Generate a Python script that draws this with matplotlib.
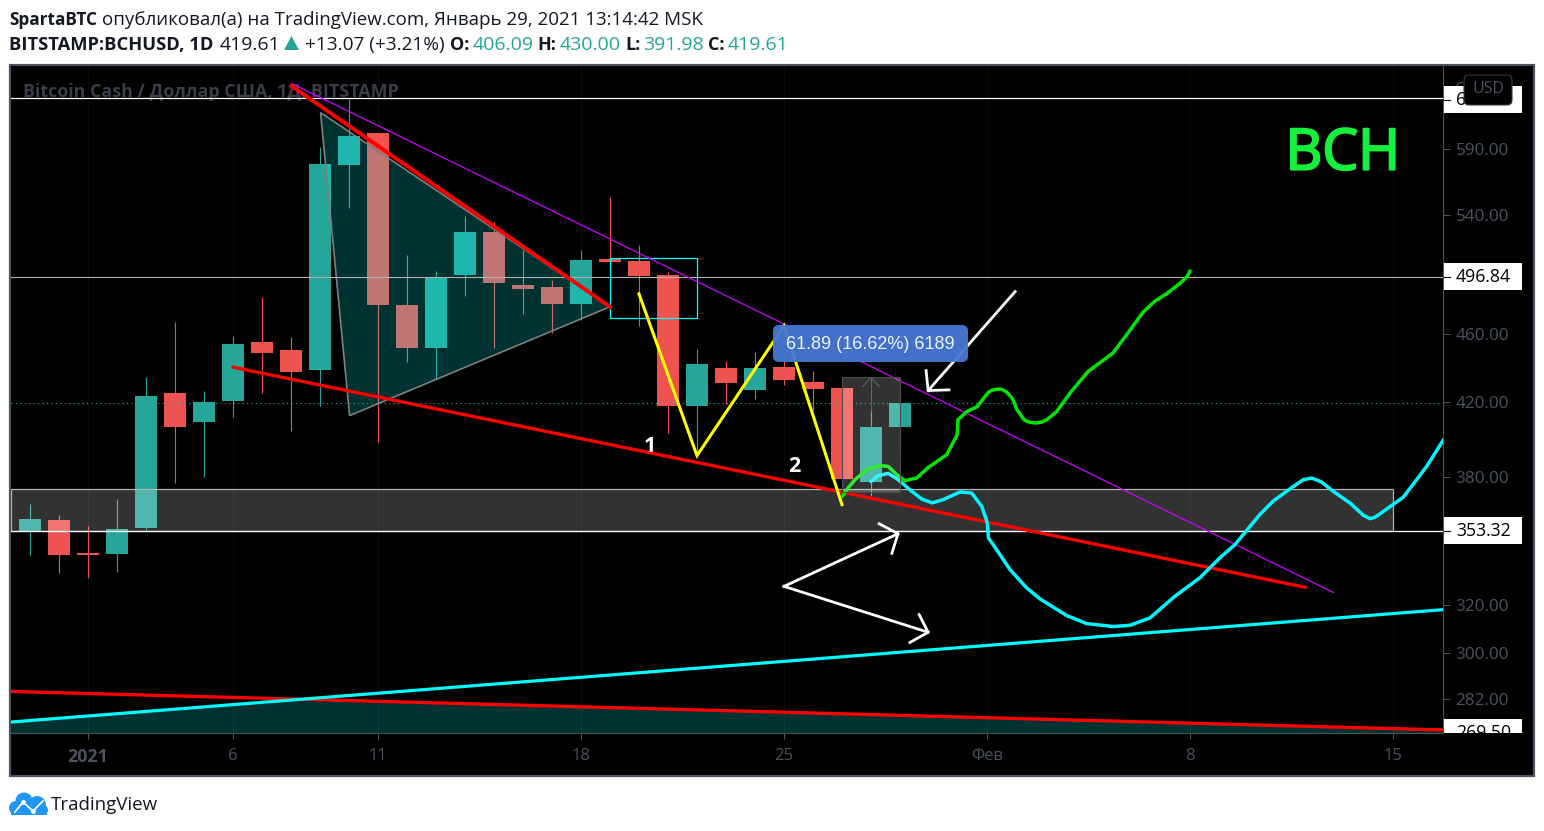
# BCHUSD daily chart with hand drawn trend lines

import matplotlib
matplotlib.use('Agg')
import matplotlib.pyplot as plt
import matplotlib.patheffects as pe
from matplotlib.patches import Rectangle, Polygon, FancyBboxPatch, Ellipse
from matplotlib.lines import Line2D
from matplotlib.ticker import NullLocator
from matplotlib.transforms import Bbox, IdentityTransform

W, H = 1544, 831

# candles, day 0 is Jan 1 2021
days = list(range(-2, 29))
opens = [352.6, 358.7, 342.8, 342.4, 354.5, 425.3, 408.7, 420.4, 455.4, 450.6, 438.8,
         577.7, 602.7, 478.6, 451.4, 498.4, 527.8, 491.6, 490.3, 479.4, 509.0, 507.6,
         498.2, 418.1, 439.8, 427.2, 440.4, 431.6, 428.1, 377.2, 406.09]
highs = [366.5, 361.1, 355.8, 369.0, 434.6, 467.8, 426.4, 459.1, 483.9, 458.5, 591.6,
         631.2, 603.0, 511.8, 500.9, 539.3, 535.0, 515.2, 494.9, 515.2, 553.2, 518.7,
         500.2, 451.2, 444.0, 449.4, 449.4, 438.0, 428.3, 415.2, 430.00]
lows = [342.0, 333.8, 331.6, 334.3, 354.0, 376.6, 379.7, 411.5, 425.3, 404.3, 418.1,
        545.3, 398.4, 443.0, 433.4, 484.4, 451.4, 473.0, 461.1, 468.7, 507.0, 465.5,
        403.2, 390.5, 419.2, 422.0, 430.0, 415.7, 369.9, 370.3, 391.98]
closes = [359.2, 342.0, 342.0, 354.4, 423.6, 406.0, 420.2, 454.2, 448.4, 437.6, 578.3,
          600.3, 478.8, 451.4, 496.9, 527.8, 493.1, 489.0, 479.4, 508.3, 507.2, 497.7,
          418.1, 442.2, 431.1, 439.8, 432.4, 427.6, 378.7, 406.3, 419.61]

# horizontal levels
level_top = 631.4
level_mid = 496.84
level_low = 353.32
level_zone = 373.7
last_price = 419.61

# drawings, (day, price)
red_down_x, red_down_y = [7.02, 18.0], [642.0, 477.4]
red_long_x, red_long_y = [5.0, 41.97], [440.2, 327.6]
red_base_x, red_base_y = [-2.655, 46.72], [284.85, 270.5]
cyan_base_x, cyan_base_y = [-2.655, 46.72], [273.4, 317.9]
magenta_x, magenta_y = [7.02, 42.95], [644.2, 325.3]
yellow_x, yellow_y = [19.0, 21.0, 24.0, 26.0], [485.7, 390.9, 465.3, 366.0]
tri_x, tri_y = [8.02, 9.02, 18.0], [619.5, 412.5, 477.4]
base_fill_x = [-2.655, 7.39, 46.72, 46.72, -2.655]
base_fill_y = [273.4, 281.4, 270.5, 269.0, 269.0]

green_x = [26.02, 26.16, 26.45, 26.85, 27.31, 27.59, 27.89, 28.17, 28.58, 28.97, 29.61, 29.97,
           30.0, 30.3, 30.66, 31.03, 31.17, 31.33, 31.48, 31.66, 31.79, 31.9, 32.02, 32.28, 32.41,
           32.66, 32.86, 33.06, 33.4, 33.86, 34.48, 35.34, 35.82, 36.38, 36.79, 37.2, 37.66, 37.9, 38.0]
green_y = [370.1, 373.4, 378.5, 383.6, 385.7, 385.3, 381.1, 378.0, 379.4, 384.7, 391.4, 402.0,
           410.2, 414.7, 417.5, 425.3, 426.8, 427.4, 427.4, 426.0, 423.7, 421.3, 416.1, 410.2, 409.1,
           408.4, 408.8, 410.2, 414.7, 425.1, 437.6, 448.6, 459.9, 473.9, 481.0, 485.9, 492.7, 497.1, 500.9]

cyan_x = [27.0, 27.25, 27.6, 27.94, 28.34, 28.75, 29.11, 29.49, 30.07, 30.47, 30.82, 31.01,
          31.05, 31.33, 31.79, 32.37, 32.83, 33.75, 34.44, 35.36, 35.93, 36.62, 37.48, 38.34,
          39.03, 39.55, 40.07, 40.41, 40.87, 41.45, 41.91, 42.2, 42.54, 42.94, 43.52, 43.98,
          44.21, 44.38, 44.55, 45.36, 46.16, 46.74]
cyan_y = [377.6, 380.6, 381.7, 378.5, 373.4, 368.8, 366.9, 368.5, 372.3, 371.8, 365.2, 357.2,
          350.0, 344.6, 335.5, 327.3, 322.5, 315.4, 312.0, 310.8, 311.3, 314.4, 323.7, 331.8,
          340.8, 346.9, 355.5, 361.2, 367.8, 373.9, 378.5, 379.3, 377.3, 372.6, 366.8, 360.8,
          359.2, 359.9, 361.5, 369.8, 385.3, 399.3]

arrows = [
    ([31.97, 28.97], [487.2, 426.6], [28.9, 28.97, 29.69], [438.2, 426.6, 427.0]),
    ([24.0, 27.93], [328.0, 352.0], [27.28, 27.93, 27.72], [356.8, 352.0, 342.9]),
    ([24.0, 28.97], [328.0, 308.4], [28.66, 28.97, 28.34], [315.8, 308.4, 304.2]),
]

price_ticks = [640, 590, 540, 460, 420, 380, 320, 300, 282]
price_tick_labels = ['640.00', '590.00', '540.00', '460.00', '420.00', '380.00', '320.00', '300.00', '282.00']
date_ticks = [0, 5, 10, 17, 24, 31, 38, 45]
date_labels = ['2021', '6', '11', '18', '25', 'Фев', '8', '15']
boxed_prices = [630.50, 496.84, 353.32, 269.50]
boxed_labels = ['630.50', '496.84', '353.32', '269.50']

UP = '#26A69A'
DOWN = '#EF5350'
AXC = '#4C525E'
INK = '#131722'
FONT = 'Open Sans'

fig = plt.figure(figsize=(W / 100, H / 100), dpi=100, facecolor='white')
plt.rcParams['font.family'] = [FONT, 'DejaVu Sans']


def fx(x):
    return x / W


def fy(y):
    return 1 - y / H


# outer black panel
fig.add_artist(Rectangle((10, H - 776), 1524, 711, facecolor='black', edgecolor=AXC,
                         linewidth=1.6, transform=IdentityTransform(), zorder=-1))

ax = fig.add_axes([fx(11), fy(733), 1432 / W, 667 / H], facecolor='black')
ax.set_yscale('log')
ax.set_xlim(-2.655, 46.724)
ax.set_ylim(269.4, 659.5)
ax.yaxis.tick_right()
ax.set_yticks(price_ticks, price_tick_labels)
ax.yaxis.set_minor_locator(NullLocator())
ax.set_xticks(date_ticks, date_labels)
ax.tick_params(axis='y', length=5, width=0.72, color=AXC, labelcolor=AXC, labelsize=12.3, pad=4)
ax.tick_params(axis='x', length=4, width=0.72, color=AXC, labelcolor=AXC, labelsize=12, pad=7)
ax.get_xticklabels()[0].set_fontweight('bold')
ax.get_xticklabels()[0].set_fontsize(12.8)
for name in ['top', 'left']:
    ax.spines[name].set_visible(False)
for name in ['right', 'bottom']:
    ax.spines[name].set_color(AXC)
    ax.spines[name].set_linewidth(0.8)

for d in date_ticks:
    ax.axvline(d, color='#0A0A0A', lw=0.72, zorder=0.5)

# watermark
ax.text(12 / 1432, 1 - (92 - 66) / 667, 'Bitcoin Cash / Доллар США, 1Д, BITSTAMP',
        transform=ax.transAxes, color='#3A3E49', fontsize=12.85, fontweight='bold', va='center', zorder=1)

# measure arrow sits under the candles
ax.plot([27, 27], [372.3, 434.2], color='#1E4A45', lw=0.8, zorder=1.5)
ax.plot([26.72, 27, 27.28], [429.0, 434.2, 429.0], color='#1E4A45', lw=0.8, zorder=1.5)

# candles
for d, o, h, l, c in zip(days, opens, highs, lows, closes):
    col = UP if c >= o else DOWN
    ax.vlines(d, l, h, color=col, lw=0.8, zorder=2)
    ax.bar(d, abs(c - o), bottom=min(o, c), width=0.79, color=col, linewidth=0, zorder=2.1)

# shaded drawings
ax.add_patch(Polygon(list(zip(tri_x, tri_y)), closed=True, facecolor=(0, 1, 1, 0.2),
                     edgecolor='#7D8080', linewidth=1.2, zorder=3))
ax.add_patch(Polygon(list(zip(base_fill_x, base_fill_y)), closed=True, facecolor=(0, 1, 1, 0.2),
                     edgecolor='none', zorder=3))
ax.add_patch(Rectangle((-2.655, level_low), 47.655, level_zone - level_low, facecolor=(1, 1, 1, 0.2),
                       edgecolor='#B2B2B2', linewidth=0.9, zorder=3))
ax.add_patch(Rectangle((18, 470.3), 3, 39.4, facecolor='none', edgecolor='#00FFFF',
                       linewidth=0.9, zorder=3.2))

# levels
ax.axhline(level_top, color='white', lw=0.9, zorder=3.1)
ax.axhline(level_mid, color='#B2B2B2', lw=0.8, zorder=3.1)
ax.axhline(level_low, color='white', lw=0.9, zorder=3.1)
ax.axhline(last_price, color=UP, lw=0.8, ls=(0, (1, 3)), zorder=3.1)

# lines
ax.plot(magenta_x, magenta_y, color='#CC00FF', lw=0.9, zorder=4)
ax.plot(red_down_x, red_down_y, color='#FF0000', lw=2.8, zorder=4.1)
ax.plot(red_long_x, red_long_y, color='#FF0000', lw=2.4, zorder=4.1)
ax.plot(red_base_x, red_base_y, color='#FF0000', lw=2.4, zorder=4.1)
ax.plot(cyan_base_x, cyan_base_y, color='#00FFFF', lw=2.3, zorder=4.2)
ax.plot(yellow_x, yellow_y, color='#FFFF00', lw=2.2, zorder=4.3, solid_joinstyle='miter')
ax.plot(green_x, green_y, color='#00E600', lw=2.5, zorder=4.4, solid_joinstyle='round', solid_capstyle='round')
ax.plot(cyan_x, cyan_y, color='#00F6FF', lw=2.5, zorder=4.5, solid_joinstyle='round', solid_capstyle='round')

# price range box lies over the curves
ax.add_patch(Rectangle((26, 372.33), 2, 61.89, facecolor=(1, 1, 1, 0.2),
                       edgecolor='#4A4A4A', linewidth=0.8, zorder=4.55))

for sx, sy, hx, hy in arrows:
    ax.plot(sx, sy, color='white', lw=2.0, zorder=4.6)
    ax.plot(hx, hy, color='white', lw=2.0, zorder=4.6)

ax.text(19.38, 395.6, '1', color='white', fontsize=15.5, fontweight='bold', ha='center', va='center', zorder=5)
ax.text(24.34, 385.1, '2', color='white', fontsize=15.5, fontweight='bold', ha='center', va='center', zorder=5)
bch = ax.text((1343 - 11) / 1432, 1 - (155 - 66) / 667, 'BCH', transform=ax.transAxes, color='#14F03C',
              fontsize=41, ha='center', va='center', zorder=5)
bch.set_path_effects([pe.withStroke(linewidth=1.6, foreground='#14F03C')])

# measure label
fig.add_artist(FancyBboxPatch((779, H - 356), 183, 25, boxstyle='round,pad=6,rounding_size=6',
                              facecolor=(0.27, 0.47, 0.83, 0.95), edgecolor='none',
                              transform=IdentityTransform(), zorder=2))
fig.text(fx(870), fy(344), '61.89 (16.62%) 6189', color='#EEF3FB', fontsize=13, family='Liberation Sans',
         ha='center', va='center', zorder=3)

# white price boxes on the scale
scale_clip = Bbox([[1443.5, H - 733], [1533, H - 66]])
for price, label in zip(boxed_prices, boxed_labels):
    y_disp = ax.transData.transform((0, price))[1]
    box = Rectangle((1444, y_disp - 13.5), 78, 27, facecolor='white', edgecolor='none',
                    transform=IdentityTransform(), zorder=2)
    fig.add_artist(box)
    box.set_clip_box(scale_clip)
    dash = Line2D([1444, 1450], [y_disp, y_disp], color='black', lw=0.8, transform=IdentityTransform(), zorder=2.1)
    fig.add_artist(dash)
    fig.text(fx(1456), y_disp / H, label, color='black', fontsize=12.7, va='center', ha='left', zorder=3,
             clip_on=True, clip_box=scale_clip)

# currency button
fig.add_artist(FancyBboxPatch((1468, H - 101), 40, 22, boxstyle='round,pad=4,rounding_size=5', facecolor='black',
                              edgecolor='#363A45', linewidth=0.8, transform=IdentityTransform(), zorder=4))
fig.text(fx(1488), fy(89), 'USD', color=AXC, fontsize=11.5, ha='center', va='center', zorder=5)

# header lines
fig.text(fx(9), fy(25), 'SpartaBTC', color=INK, fontsize=12.4, fontweight='bold')
fig.text(fx(102), fy(25), 'опубликовал(а) на TradingView.com, Январь 29, 2021 13:14:42 MSK', color=INK, fontsize=13.5)
fig.text(fx(9), fy(50), 'BITSTAMP:BCHUSD, 1D', color=INK, fontsize=13.2, fontweight='bold')
fig.text(fx(220), fy(50), '419.61', color=INK, fontsize=14)
fig.add_artist(Polygon([[284, H - 50], [299, H - 50], [291.5, H - 36]], closed=True, facecolor=UP,
                       edgecolor='none', transform=IdentityTransform()))
fig.text(fx(305), fy(50), '+13.07 (+3.21%)', color=INK, fontsize=13.7)
for x, label in [(450, 'O:'), (537, 'H:'), (625, 'L:'), (708, 'C:')]:
    fig.text(fx(x), fy(50), label, color=INK, fontsize=13, fontweight='bold')
for x, label in [(473, '406.09'), (560, '430.00'), (643, '391.98'), (728, '419.61')]:
    fig.text(fx(x), fy(50), label, color=UP, fontsize=14)

# logo
LOGO = '#2196F3'
for cx, cy, rx, ry in [(16, 808, 7, 7), (24, 801, 8.5, 8.5), (37, 805, 9, 9), (43, 810, 5, 5)]:
    fig.add_artist(Ellipse((cx, H - cy), 2 * rx, 2 * ry, facecolor=LOGO, edgecolor='none',
                           transform=IdentityTransform()))
fig.add_artist(Rectangle((11, H - 815), 36, 8, facecolor=LOGO, edgecolor='none', transform=IdentityTransform()))
fig.add_artist(Line2D([15, 23, 33, 43], [H - 812, H - 802, H - 811, H - 801], color='white', lw=1.2,
                      marker='o', markersize=2.5, markevery=[1, 2], transform=IdentityTransform(), zorder=2))
fig.text(fx(51), fy(810), 'TradingView', color=INK, fontsize=13.5)

fig.savefig('out.png', dpi=100, facecolor='white')
